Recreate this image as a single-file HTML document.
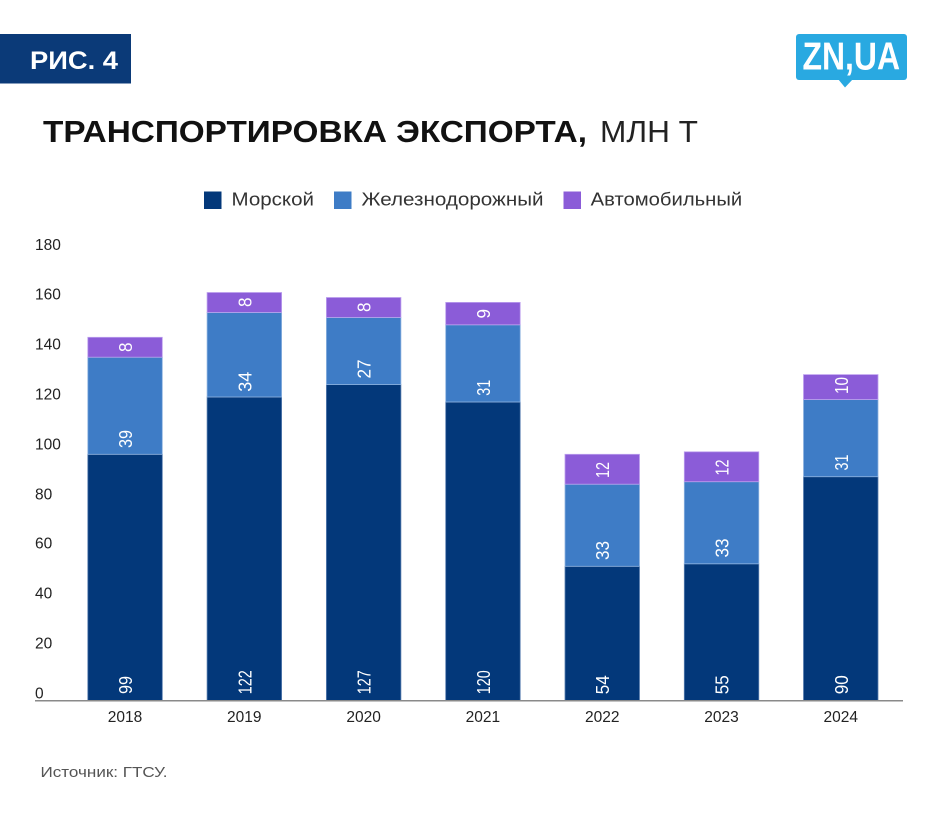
<!DOCTYPE html>
<html>
<head>
<meta charset="utf-8">
<style>
  html,body{margin:0;padding:0;background:#fff;}
  svg{display:block;}
  text{font-family:"Liberation Sans","DejaVu Sans",sans-serif;}
</style>
</head>
<body>
<svg width="948" height="820" viewBox="0 0 948 820" xmlns="http://www.w3.org/2000/svg">
  <rect x="0" y="0" width="948" height="820" fill="#ffffff"/>

  <!-- РИС. 4 badge -->
  <rect x="0" y="34" width="131" height="49.5" fill="#0b3a78"/>
  <text x="30" y="69" font-size="25" font-weight="bold" fill="#ffffff" textLength="88" lengthAdjust="spacingAndGlyphs">РИС. 4</text>

  <!-- Logo -->
  <rect x="796" y="34" width="111" height="46" rx="3" fill="#29a9e1"/>
  <polygon points="838,79 853,79 845,87.5" fill="#29a9e1"/>
  <text x="802.5" y="69.5" font-size="39" font-weight="bold" fill="#ffffff" textLength="97.5" lengthAdjust="spacingAndGlyphs">ZN,UA</text>

  <!-- Title -->
  <text x="43" y="142" font-size="31" font-weight="bold" fill="#111111" textLength="544" lengthAdjust="spacingAndGlyphs">ТРАНСПОРТИРОВКА ЭКСПОРТА,</text>
  <text x="600" y="142" font-size="31" fill="#222222" textLength="98" lengthAdjust="spacingAndGlyphs">МЛН Т</text>

  <!-- Legend -->
  <rect x="204" y="191.5" width="17.5" height="17.5" fill="#03387a"/>
  <text x="231.5" y="205.7" font-size="18" fill="#333333" textLength="82.5" lengthAdjust="spacingAndGlyphs">Морской</text>
  <rect x="334" y="191.5" width="17.5" height="17.5" fill="#3e7cc6"/>
  <text x="361.5" y="205.7" font-size="18" fill="#333333" textLength="182" lengthAdjust="spacingAndGlyphs">Железнодорожный</text>
  <rect x="563.5" y="191.5" width="17.5" height="17.5" fill="#8b5cd8"/>
  <text x="590.7" y="205.7" font-size="18" fill="#333333" textLength="151.5" lengthAdjust="spacingAndGlyphs">Автомобильный</text>

  <!-- Y axis labels -->
  <g font-size="15.5" fill="#222222">
    <text x="35" y="250">180</text>
    <text x="35" y="299.5">160</text>
    <text x="35" y="349.5">140</text>
    <text x="35" y="399.5">120</text>
    <text x="35" y="449.5">100</text>
    <text x="35" y="499.5">80</text>
    <text x="35" y="548.5">60</text>
    <text x="35" y="598.5">40</text>
    <text x="35" y="648.5">20</text>
    <text x="35" y="698.5">0</text>
  </g>

  <!-- Bars -->
  <g stroke-width="0.8">
    <!-- 2018: 99, 39, 8 -->
    <rect x="87.8" y="454.3" width="74.5" height="246.4" fill="#03387a" stroke="#5a7fb0"/>
    <rect x="87.8" y="357.2" width="74.5" height="97.1" fill="#3e7cc6" stroke="#8fb3e0"/>
    <rect x="87.8" y="337.3" width="74.5" height="19.9" fill="#8b5cd8" stroke="#bda0ee"/>
    <!-- 2019: 122, 34, 8 -->
    <rect x="207.1" y="397.0" width="74.5" height="303.7" fill="#03387a" stroke="#5a7fb0"/>
    <rect x="207.1" y="312.4" width="74.5" height="84.6" fill="#3e7cc6" stroke="#8fb3e0"/>
    <rect x="207.1" y="292.5" width="74.5" height="19.9" fill="#8b5cd8" stroke="#bda0ee"/>
    <!-- 2020: 127, 27, 8 -->
    <rect x="326.4" y="384.6" width="74.5" height="316.1" fill="#03387a" stroke="#5a7fb0"/>
    <rect x="326.4" y="317.4" width="74.5" height="67.2" fill="#3e7cc6" stroke="#8fb3e0"/>
    <rect x="326.4" y="297.5" width="74.5" height="19.9" fill="#8b5cd8" stroke="#bda0ee"/>
    <!-- 2021: 120, 31, 9 -->
    <rect x="445.7" y="402.0" width="74.5" height="298.7" fill="#03387a" stroke="#5a7fb0"/>
    <rect x="445.7" y="324.8" width="74.5" height="77.2" fill="#3e7cc6" stroke="#8fb3e0"/>
    <rect x="445.7" y="302.4" width="74.5" height="22.4" fill="#8b5cd8" stroke="#bda0ee"/>
    <!-- 2022: 54, 33, 12 -->
    <rect x="565.0" y="566.3" width="74.5" height="134.4" fill="#03387a" stroke="#5a7fb0"/>
    <rect x="565.0" y="484.2" width="74.5" height="82.1" fill="#3e7cc6" stroke="#8fb3e0"/>
    <rect x="565.0" y="454.3" width="74.5" height="29.9" fill="#8b5cd8" stroke="#bda0ee"/>
    <!-- 2023: 55, 33, 12 -->
    <rect x="684.3" y="563.8" width="74.5" height="136.9" fill="#03387a" stroke="#5a7fb0"/>
    <rect x="684.3" y="481.7" width="74.5" height="82.1" fill="#3e7cc6" stroke="#8fb3e0"/>
    <rect x="684.3" y="451.8" width="74.5" height="29.9" fill="#8b5cd8" stroke="#bda0ee"/>
    <!-- 2024: 90, 31, 10 -->
    <rect x="803.5" y="476.7" width="74.5" height="224.0" fill="#03387a" stroke="#5a7fb0"/>
    <rect x="803.5" y="399.5" width="74.5" height="77.2" fill="#3e7cc6" stroke="#8fb3e0"/>
    <rect x="803.5" y="374.6" width="74.5" height="24.9" fill="#8b5cd8" stroke="#bda0ee"/>
  </g>

  <!-- Axis line -->
  <line x1="35" y1="700.7" x2="903" y2="700.7" stroke="#8a8a8a" stroke-width="1.5"/>

  <!-- Value labels (rotated) -->
  <g font-size="18.5" fill="#ffffff">
    <!-- 2018 -->
    <text transform="translate(132,694) rotate(-90)" textLength="18" lengthAdjust="spacingAndGlyphs">99</text>
    <text transform="translate(132,448) rotate(-90)" textLength="18" lengthAdjust="spacingAndGlyphs">39</text>
    <text transform="translate(132,352) rotate(-90)" textLength="9.5" lengthAdjust="spacingAndGlyphs">8</text>
    <!-- 2019 -->
    <text transform="translate(251.3,694.3) rotate(-90)" textLength="24" lengthAdjust="spacingAndGlyphs">122</text>
    <text transform="translate(251.3,391.7) rotate(-90)" textLength="20" lengthAdjust="spacingAndGlyphs">34</text>
    <text transform="translate(251.3,307) rotate(-90)" textLength="9.5" lengthAdjust="spacingAndGlyphs">8</text>
    <!-- 2020 -->
    <text transform="translate(370.6,694.3) rotate(-90)" textLength="24" lengthAdjust="spacingAndGlyphs">127</text>
    <text transform="translate(370.6,378.5) rotate(-90)" textLength="19" lengthAdjust="spacingAndGlyphs">27</text>
    <text transform="translate(370.6,312) rotate(-90)" textLength="9.5" lengthAdjust="spacingAndGlyphs">8</text>
    <!-- 2021 -->
    <text transform="translate(489.9,694.3) rotate(-90)" textLength="24" lengthAdjust="spacingAndGlyphs">120</text>
    <text transform="translate(489.9,395.7) rotate(-90)" textLength="16" lengthAdjust="spacingAndGlyphs">31</text>
    <text transform="translate(489.9,318.5) rotate(-90)" textLength="9.5" lengthAdjust="spacingAndGlyphs">9</text>
    <!-- 2022 -->
    <text transform="translate(609.2,694.3) rotate(-90)" textLength="19" lengthAdjust="spacingAndGlyphs">54</text>
    <text transform="translate(609.2,560) rotate(-90)" textLength="19" lengthAdjust="spacingAndGlyphs">33</text>
    <text transform="translate(609.2,478) rotate(-90)" textLength="16" lengthAdjust="spacingAndGlyphs">12</text>
    <!-- 2023 -->
    <text transform="translate(728.5,694.3) rotate(-90)" textLength="19" lengthAdjust="spacingAndGlyphs">55</text>
    <text transform="translate(728.5,557.5) rotate(-90)" textLength="19" lengthAdjust="spacingAndGlyphs">33</text>
    <text transform="translate(728.5,475.5) rotate(-90)" textLength="16" lengthAdjust="spacingAndGlyphs">12</text>
    <!-- 2024 -->
    <text transform="translate(847.8,694.3) rotate(-90)" textLength="19" lengthAdjust="spacingAndGlyphs">90</text>
    <text transform="translate(847.8,470.5) rotate(-90)" textLength="16" lengthAdjust="spacingAndGlyphs">31</text>
    <text transform="translate(847.8,394) rotate(-90)" textLength="17" lengthAdjust="spacingAndGlyphs">10</text>
  </g>

  <!-- X labels -->
  <g font-size="15.5" fill="#222222" text-anchor="middle">
    <text x="125" y="722">2018</text>
    <text x="244.3" y="722">2019</text>
    <text x="363.6" y="722">2020</text>
    <text x="482.9" y="722">2021</text>
    <text x="602.2" y="722">2022</text>
    <text x="721.5" y="722">2023</text>
    <text x="840.8" y="722">2024</text>
  </g>

  <!-- Source -->
  <text x="40.5" y="777" font-size="14.5" fill="#555555" textLength="127" lengthAdjust="spacingAndGlyphs">Источник: ГТСУ.</text>
</svg>
</body>
</html>
